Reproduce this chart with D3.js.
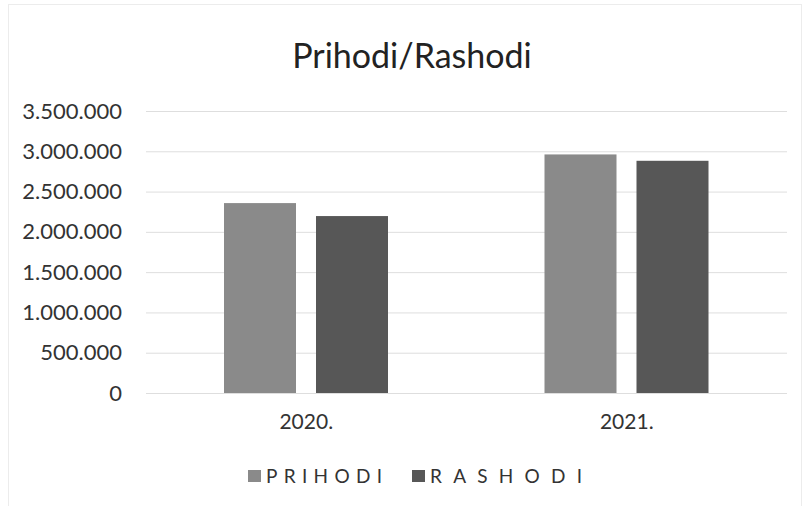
<!DOCTYPE html>
<html>
<head>
<meta charset="utf-8">
<script src="https://cdnjs.cloudflare.com/ajax/libs/d3/7.8.5/d3.min.js"></script>
<style>
  html, body { margin: 0; padding: 0; background: #fff; }
  svg { display: block; font-family: Lato, "Open Sans", sans-serif; }
</style>
</head>
<body>
<div id="chart"></div>
<script>
var categories = ['2020.', '2021.'];
var seriesNames = ['PRIHODI', 'RASHODI'];
var prihodi = [2357000, 2961000];
var rashodi = [2196000, 2882000];
var yTicks = [0, 500000, 1000000, 1500000, 2000000, 2500000, 3000000, 3500000];

var width = 807, height = 506;
var colors = ['#8a8a8a', '#575757'];
var textColor = '#333';

var plot = { left: 146, right: 787, top: 111, bottom: 393 };

var svg = d3.select('#chart').append('svg')
  .attr('width', width)
  .attr('height', height);

// faint chart border, like the scanned office chart
svg.append('rect')
  .attr('x', 8.5).attr('y', 4.5)
  .attr('width', width - 14).attr('height', height + 10)
  .attr('fill', 'none')
  .attr('stroke', '#ececec');

var y = d3.scaleLinear()
  .domain([0, 3500000])
  .range([plot.bottom, plot.top]);

var x0 = d3.scaleBand()
  .domain(categories)
  .range([plot.left, plot.right]);

var x1 = d3.scaleBand()
  .domain(seriesNames)
  .range([78, 242])
  .paddingInner(0.2174);

var fmt = function (v) {
  return d3.format(',')(v).replace(/,/g, '.');
};

// gridlines + y labels
var yAxis = d3.axisLeft(y)
  .tickValues(yTicks)
  .tickSize(-(plot.right - plot.left))
  .tickPadding(24)
  .tickFormat(fmt);

var gy = svg.append('g')
  .attr('transform', 'translate(' + plot.left + ',0)')
  .call(yAxis);
gy.select('.domain').remove();
gy.selectAll('.tick line')
  .attr('stroke', '#dedede')
  .attr('stroke-width', 1);
gy.selectAll('.tick text')
  .attr('fill', textColor)
  .attr('font-size', 22)
  .attr('font-family', 'Lato, sans-serif');

// bars
var rows = categories.map(function (c, i) {
  return { cat: c, values: [prihodi[i], rashodi[i]] };
});

var groups = svg.selectAll('g.cat')
  .data(rows)
  .enter().append('g')
  .attr('class', 'cat')
  .attr('transform', function (d) { return 'translate(' + x0(d.cat) + ',0)'; });

groups.selectAll('rect')
  .data(function (d) {
    return d.values.map(function (v, j) { return { name: seriesNames[j], value: v, idx: j }; });
  })
  .enter().append('rect')
  .attr('x', function (d) { return x1(d.name); })
  .attr('width', x1.bandwidth())
  .attr('y', function (d) { return y(d.value); })
  .attr('height', function (d) { return y(0) - y(d.value); })
  .attr('fill', function (d) { return colors[d.idx]; });

// x axis labels
var xAxis = d3.axisBottom(x0).tickSize(0).tickPadding(21);
var gx = svg.append('g')
  .attr('transform', 'translate(0,' + plot.bottom + ')')
  .call(xAxis);
gx.select('.domain').remove();
gx.selectAll('.tick text')
  .attr('fill', textColor)
  .attr('font-size', 21)
  .attr('font-family', 'Lato, sans-serif');

// title
svg.append('text')
  .attr('x', 412)
  .attr('y', 68)
  .attr('text-anchor', 'middle')
  .attr('fill', '#222')
  .attr('font-size', 34)
  .text('Prihodi/Rashodi');

// legend
var legendItems = [
  { name: seriesNames[0], sx: 248, tx: 266, tw: 116 },
  { name: seriesNames[1], sx: 412, tx: 430, tw: 152 }
];
var lg = svg.append('g');
legendItems.forEach(function (d, i) {
  lg.append('rect')
    .attr('x', d.sx).attr('y', 470)
    .attr('width', 13).attr('height', 12)
    .attr('fill', colors[i]);
  lg.append('text')
    .attr('x', d.tx).attr('y', 483)
    .attr('fill', textColor)
    .attr('font-size', 19)
    .attr('textLength', d.tw)
    .attr('lengthAdjust', 'spacing')
    .text(d.name);
});
</script>
</body>
</html>
